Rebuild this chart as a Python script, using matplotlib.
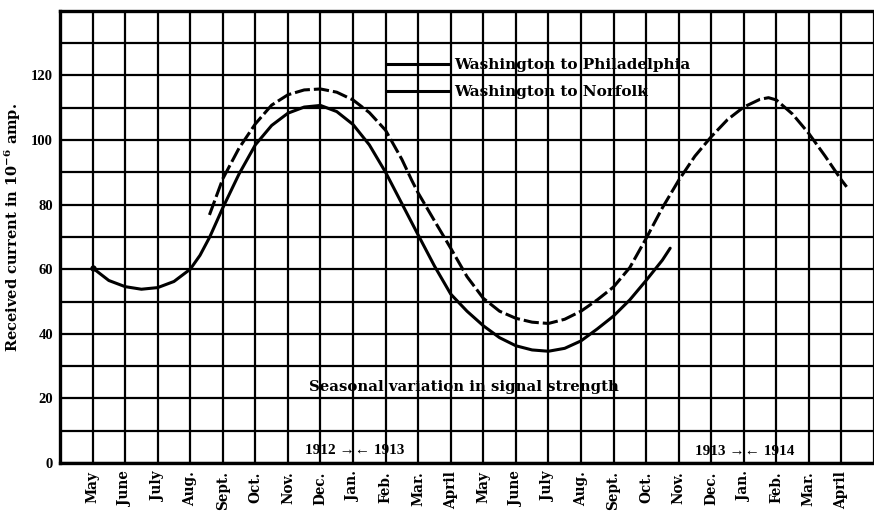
import matplotlib
matplotlib.use("Agg")
import matplotlib.pyplot as plt
from matplotlib.lines import Line2D

# ---------------- data ----------------
months = ["May", "June", "July", "Aug.", "Sept.", "Oct.", "Nov.", "Dec.",
          "Jan.", "Feb.", "Mar.", "April", "May", "June", "July", "Aug.",
          "Sept.", "Oct.", "Nov.", "Dec.", "Jan.", "Feb.", "Mar.", "April"]
y_tick_values = [0, 20, 40, 60, 80, 100, 120]

# month index (0 = May 1912) and received current (10^-6 amp.)
norfolk_x = [0, 0.5, 1, 1.5, 2, 2.5, 3, 3.3, 3.6, 4, 4.5, 5, 5.5, 6, 6.5, 7,
             7.5, 8, 8.5, 9, 9.5, 10, 10.5, 11, 11.5, 12, 12.5, 13, 13.5, 14,
             14.5, 15, 15.5, 16, 16.5, 17, 17.5, 17.74]
norfolk_y = [60.4, 56.5, 54.6, 53.8, 54.3, 56.2, 60.0, 64.3, 70.0, 79.0, 89.5,
             98.5, 104.5, 108.3, 110.2, 110.7, 108.8, 104.8, 98.5, 90.0, 80.3,
             70.6, 61.0, 52.3, 47.0, 42.5, 38.8, 36.3, 35.0, 34.6, 35.5, 37.8,
             41.5, 45.5, 50.5, 56.5, 62.8, 66.5]

phila_x = [3.59, 4, 4.5, 5, 5.5, 6, 6.5, 7, 7.5, 8, 8.5, 9, 9.5, 9.8, 10, 10.5,
           11, 11.5, 12, 12.5, 13, 13.5, 14, 14.5, 15, 15.5, 16, 16.5, 17, 17.5,
           18, 18.5, 19, 19.5, 20, 20.5, 20.76, 21, 21.5, 22, 22.5, 23, 23.16]
phila_y = [76.8, 88.0, 97.5, 105.0, 110.8, 114.0, 115.5, 115.8, 114.8, 112.4,
           108.5, 103.0, 94.0, 87.6, 83.6, 75.0, 66.5, 57.7, 51.0, 47.0, 44.8,
           43.6, 43.2, 44.5, 47.0, 50.5, 54.5, 60.5, 69.5, 79.0, 87.5, 95.0,
           101.0, 106.3, 110.2, 112.6, 113.1, 112.4, 108.0, 102.0, 95.0, 87.6,
           85.5]

legend_labels = ["Washington to Philadelphia", "Washington to Norfolk"]
ylabel_text = r"Received current in 10$^{-6}$ amp."
note_text = "Seasonal variation in signal strength"
year_labels = ["1912 \u2192\u2190 1913", "1913 \u2192\u2190 1914"]
year_label_x = [8.04, 20.02]
year_label_y = [4.0, 3.6]

# ---------------- style ----------------
plt.rcParams['font.family'] = ['DejaVu Serif', 'DejaVu Sans']
plt.rcParams['font.weight'] = 'bold'
plt.rcParams['mathtext.fontset'] = 'dejavuserif'
plt.rcParams['mathtext.default'] = 'bf'

fig = plt.figure(figsize=(8.74, 5.15), dpi=100)
ax = fig.add_axes([60 / 874, 1 - 463 / 515, 814 / 874, 452.2 / 515])

ax.set_xlim(-1, 23.94)
ax.set_ylim(0, 140)

# grid
grid_kw = dict(color='black', linewidth=1.6, zorder=1)
ax.set_xticks(range(0, 24))
ax.set_xticks([24], minor=True)
ax.set_xticklabels(months, rotation=90, fontsize=9.8, fontweight='bold',
                   va='top', ha='center')
ax.set_yticks(y_tick_values)
ax.set_yticks([10, 30, 50, 70, 90, 110, 130], minor=True)
ax.set_yticklabels([str(v) for v in y_tick_values],
                   fontfamily='Liberation Serif', fontsize=10.5, fontweight='bold')
ax.grid(True, which='both', **grid_kw)
ax.set_axisbelow(True)
ax.tick_params(axis='both', which='both', length=0)
ax.tick_params(axis='x', pad=6)
ax.tick_params(axis='y', pad=5)

for side in ['left', 'bottom', 'top']:
    ax.spines[side].set_linewidth(2.4)
    ax.spines[side].set_color('black')
ax.spines['right'].set_visible(False)

# curves
ax.plot(norfolk_x, norfolk_y, color='black', linewidth=2.2,
        solid_capstyle='round', solid_joinstyle='round', zorder=3)
ax.plot(norfolk_x[:1], norfolk_y[:1], 'o', color='black', markersize=3.5, zorder=3)
ax.plot(phila_x, phila_y, color='black', linewidth=2.2,
        linestyle=(0, (5, 1.3)), dash_joinstyle='round', zorder=3)

# legend
handles = [Line2D([0], [0], color='black', linewidth=2.2),
           Line2D([0], [0], color='black', linewidth=2.2)]
leg = ax.legend(handles, legend_labels, loc='upper left',
                bbox_to_anchor=((388 - 60) / 814, (463 - 58) / 452.2),
                frameon=False, borderpad=0, borderaxespad=0,
                handlelength=4.0, handletextpad=0.35, labelspacing=0.85,
                prop={'family': 'DejaVu Serif', 'weight': 'bold', 'size': 11})

# y label
ax.set_ylabel(ylabel_text, fontsize=10.5, fontweight='bold')
ax.yaxis.set_label_coords(-0.046, 0.52)

# notes
ax.text(6.66, 23.5, note_text, ha='left', va='center', fontsize=10.7,
        fontweight='bold', zorder=4)
for t, xx, yy in zip(year_labels, year_label_x, year_label_y):
    ax.text(xx, yy, t, ha='center', va='center', fontsize=11,
            fontweight='bold', zorder=4,
            family=['Liberation Serif', 'DejaVu Sans'])

fig.savefig("out.png", dpi=100)
